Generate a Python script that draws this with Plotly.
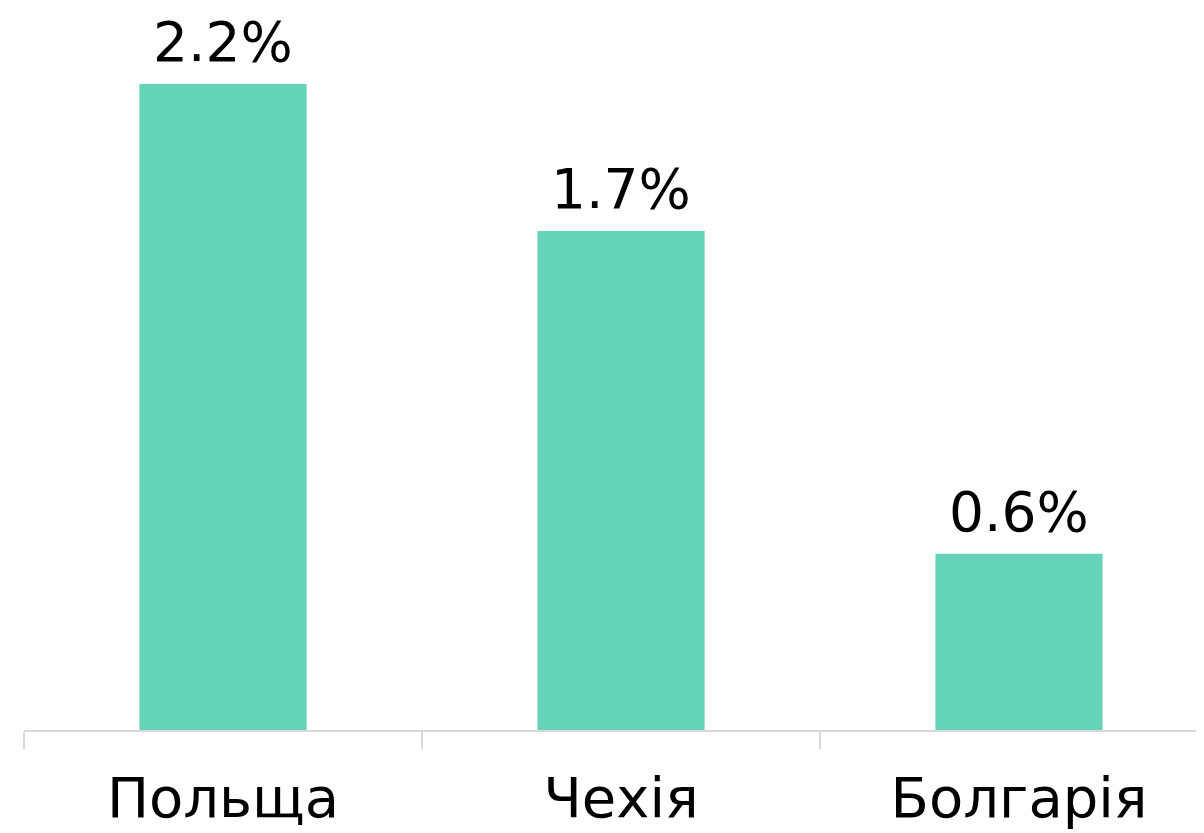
import plotly.graph_objects as go

categories = ["Польща", "Чехія", "Болгарія"]
values = [2.2, 1.7, 0.6]
labels = ["2.2%", "1.7%", "0.6%"]

FONT = "DejaVu Sans"

fig = go.Figure(go.Bar(
    x=categories, y=values, width=0.42,
    marker=dict(color="#64d3b8", line=dict(width=0)),
    hoverinfo="skip",
))

for c, v, t in zip(categories, values, labels):
    fig.add_annotation(x=c, y=v, text=t, showarrow=False, yanchor="bottom",
                       yshift=8, font=dict(family=FONT, size=55, color="#000000"))

fig.update_layout(
    width=1204, height=833,
    margin=dict(l=16, r=0, t=0, b=111),
    paper_bgcolor="white", plot_bgcolor="white",
    showlegend=False,
    font=dict(family=FONT, color="#000000"),
    xaxis=dict(
        range=[-0.5, -0.5 + 1188 / 398],
        showline=True, linecolor="#d9d9d9", linewidth=2,
        ticks="outside", tickson="boundaries", ticklen=17, tickcolor="#d9d9d9", tickwidth=2,
        ticklabelstandoff=18,
        tickfont=dict(family=FONT, size=56, color="#000000"),
        showgrid=False, zeroline=False,
    ),
    yaxis=dict(range=[0, 722 / 293.6], visible=False, showgrid=False, zeroline=False),
)

fig.write_html("out.html")
